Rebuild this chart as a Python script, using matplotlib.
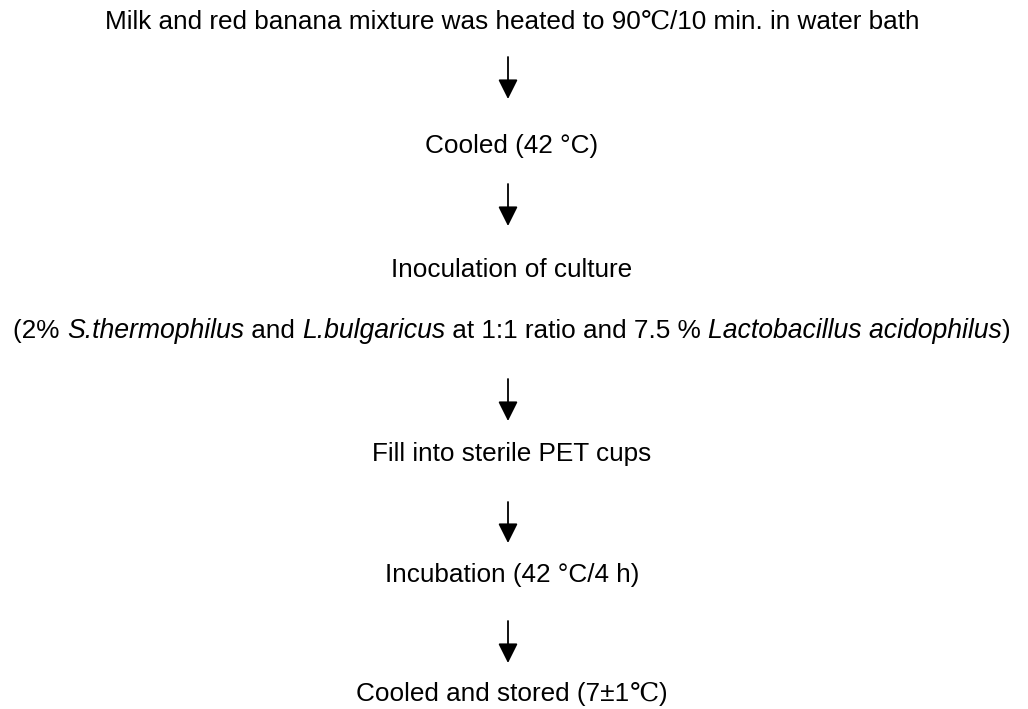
import matplotlib
matplotlib.use("Agg")
import matplotlib.pyplot as plt

# flow steps: each line is a list of (text, kind) pieces
step_lines = [
    [("Milk and red banana mixture was heated to 90", False), ("\u2103", "deg"),
     ("/10 min. in water bath", False)],
    [("Cooled (42 \u00b0C)", False)],
    [("Inoculation of culture", False)],
    [("(2% ", False), ("S.thermophilus", True), (" and ", False), ("L.bulgaricus", True),
     (" at 1:1 ratio and 7.5 % ", False), ("Lactobacillus acidophilus", True), (")", False)],
    [("Fill into sterile PET cups", False)],
    [("Incubation (42 \u00b0C/4 h)", False)],
    [("Cooled and stored (7\u00b11", False), ("\u2103", "deg"), (")", False)],
]

# layout (pixels from top)
line_centers = [20, 144, 268, 329, 452, 573, 692]
arrows = [(57, 99), (184, 226), (379, 421), (502, 543), (621, 663)]
text_mid = 512
arrow_x = 508
fsize = 18.8

fig = plt.figure(figsize=(10.28, 7.09), dpi=100)
ax = fig.add_axes([0, 0, 1, 1])
ax.set_xlim(0, 1028)
ax.set_ylim(709, 0)
ax.axis("off")
renderer = fig.canvas.get_renderer()


def style_of(kind):
    if kind == "deg":
        return dict(family=["Liberation Serif", "DejaVu Serif"], style="normal", fontsize=fsize)
    if kind:
        return dict(family=["Liberation Sans", "DejaVu Sans"], style="italic", fontsize=fsize * 1.02)
    return dict(family=["Liberation Sans", "DejaVu Sans"], style="normal", fontsize=fsize)


def text_width(s, kw):
    t = ax.text(0, 0, "|" + s + "|", **kw)
    w1 = t.get_window_extent(renderer).width
    t.set_text("||")
    w2 = t.get_window_extent(renderer).width
    t.remove()
    return w1 - w2


for pieces, yc in zip(step_lines, line_centers):
    widths = [text_width(s, style_of(k)) for s, k in pieces]
    x = text_mid - sum(widths) / 2
    base = yc + 18 * 100 / 72 * 0.36
    for (s, k), w in zip(pieces, widths):
        ax.text(x, base, s, va="baseline", ha="left", **style_of(k))
        x += w

for y0, y1 in arrows:
    ax.annotate("", xy=(arrow_x, y1), xytext=(arrow_x, y0),
                arrowprops=dict(arrowstyle="-|>,head_length=1.2,head_width=0.6",
                                lw=1.3, color="black", shrinkA=0, shrinkB=0))

fig.savefig("out.png", dpi=100, facecolor="white")
